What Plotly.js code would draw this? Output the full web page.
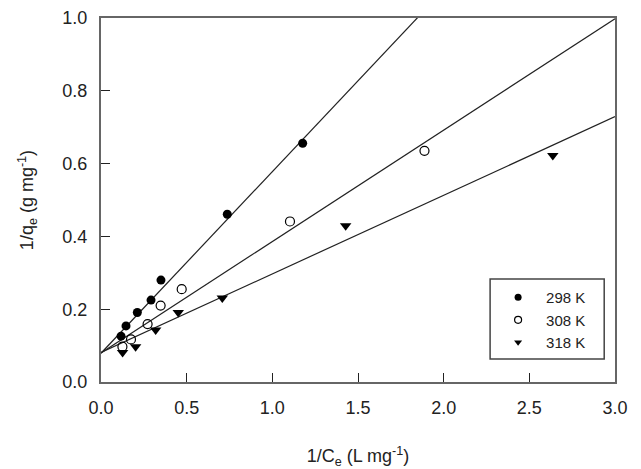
<!DOCTYPE html>
<html>
<head>
<meta charset="utf-8">
<script src="https://cdn.plot.ly/plotly-3.0.1.min.js"></script>
<style>html,body{margin:0;padding:0;background:#fff;}#chart{width:641px;height:469px;}</style>
</head>
<body>
<div id="chart"></div>
<script>
// Data
const seriesNames = ["298 K", "308 K", "318 K"];
const x298 = [0.117, 0.146, 0.212, 0.292, 0.350, 0.737, 1.177];
const y298 = [0.126, 0.154, 0.191, 0.225, 0.280, 0.461, 0.656];
const x308 = [0.125, 0.175, 0.272, 0.348, 0.471, 1.103, 1.888];
const y308 = [0.097, 0.117, 0.159, 0.210, 0.255, 0.441, 0.635];
const x318 = [0.126, 0.202, 0.319, 0.451, 0.708, 1.428, 2.637];
const y318 = [0.081, 0.097, 0.143, 0.191, 0.231, 0.429, 0.622];
// Linear fit parameters (slope, intercept)
const fitSlopes = [0.499, 0.306, 0.216];
const fitIntercepts = [0.079, 0.080, 0.081];
const fitXRange = [0, 3];
const xTicks = [0, 0.5, 1.0, 1.5, 2.0, 2.5, 3.0];
const yTicks = [0, 0.2, 0.4, 0.6, 0.8, 1.0];

const font = {family: "Liberation Sans, Arial, sans-serif", color: "#222"};
const symbols = ["circle", "circle-open", "triangle-down"];
const xs = [x298, x308, x318];
const ys = [y298, y308, y318];
const traces = [];
for (let i = 0; i < 3; i++) {
  traces.push({
    x: fitXRange,
    y: fitXRange.map(v => fitIntercepts[i] + fitSlopes[i] * v),
    mode: "lines", line: {color: "#222", width: 1.2},
    showlegend: false, hoverinfo: "skip"
  });
}
for (let i = 0; i < 3; i++) {
  traces.push({x: xs[i], y: ys[i], name: seriesNames[i], mode: "markers",
    showlegend: false,
    marker: {symbol: symbols[i], size: i === 2 ? 10 : 9, color: "#000",
             line: {width: i === 1 ? 1.2 : 0, color: "#000"}}});
}
// legend entries (smaller symbols, as in the reference legend)
for (let i = 0; i < 3; i++) {
  traces.push({x: [null], y: [null], name: seriesNames[i], mode: "markers",
    marker: {symbol: symbols[i], size: 7, color: "#000",
             line: {width: i === 1 ? 1.2 : 0, color: "#000"}}});
}

const axisCommon = {
  showgrid: false, zeroline: false, showline: true, mirror: true,
  linecolor: "#666", linewidth: 2, ticks: "inside", ticklen: 9,
  tickcolor: "#222", tickwidth: 1, tickfont: Object.assign({size: 18}, font),
  ticklabelstandoff: 8
};
const layout = {
  width: 641, height: 469,
  margin: {l: 101, r: 26, t: 18, b: 87},
  paper_bgcolor: "#fff", plot_bgcolor: "#fff",
  font: font,
  xaxis: Object.assign({}, axisCommon, {
    range: [0, 3], tickvals: xTicks, ticktext: xTicks.map(v => v.toFixed(1)),
    title: {text: "1/C<sub>e</sub> (L mg<sup>-1</sup>)", font: Object.assign({size: 18}, font), standoff: 42}
  }),
  yaxis: Object.assign({}, axisCommon, {
    range: [0, 1], tickvals: yTicks, ticktext: yTicks.map(v => v.toFixed(1)),
    title: {text: "1/q<sub>e</sub> (g mg<sup>-1</sup>)", font: Object.assign({size: 18}, font), standoff: 24}
  }),
  legend: {
    x: 0.757, xanchor: "left", y: 0.170, yanchor: "middle",
    borderwidth: 0, bgcolor: "rgba(0,0,0,0)",
    font: Object.assign({size: 15}, font), itemwidth: 46,
    tracegroupgap: 0
  },
  shapes: [{type: "rect", xref: "paper", yref: "paper",
    x0: 0.757, x1: 0.979, y0: 0.063, y1: 0.283,
    line: {color: "#444", width: 1.5}, fillcolor: "rgba(0,0,0,0)"}],
  showlegend: true
};
Plotly.newPlot("chart", traces, layout, {displayModeBar: false, staticPlot: true});
</script>
</body>
</html>
